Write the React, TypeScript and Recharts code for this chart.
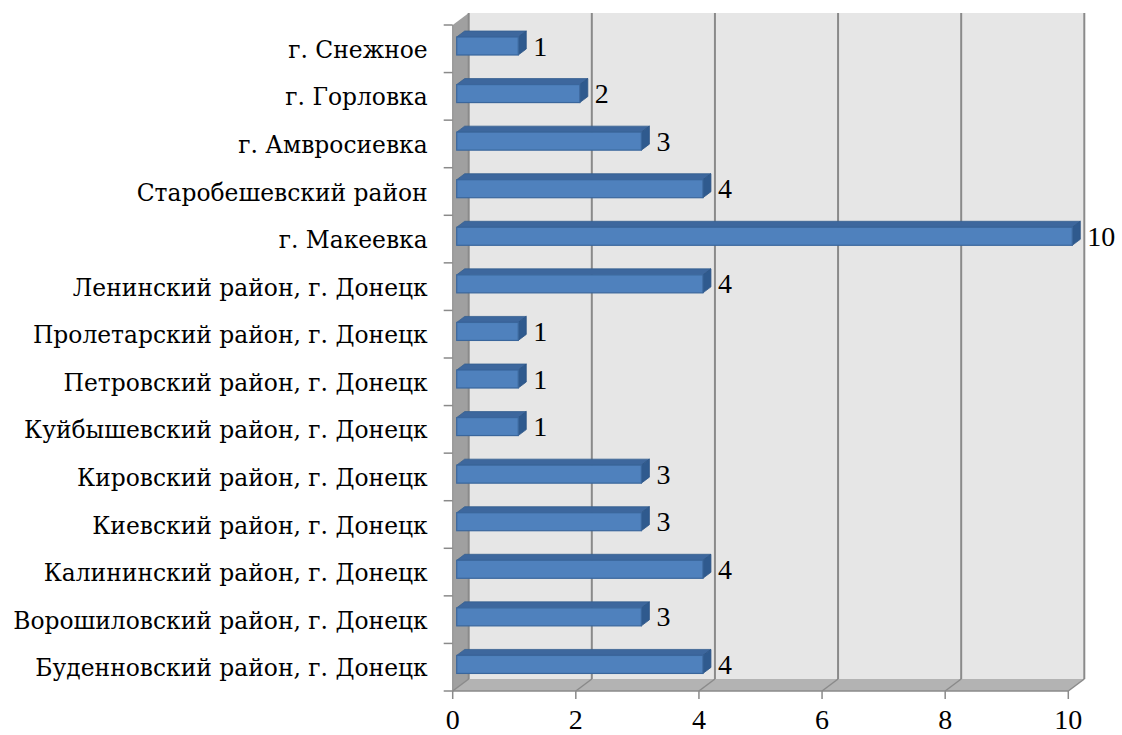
import React from "react";
import {
  BarChart,
  Bar,
  XAxis,
  YAxis,
  ReferenceArea,
  ReferenceLine,
  LabelList,
} from "recharts";

const categories = [
  "г. Снежное",
  "г. Горловка",
  "г. Амвросиевка",
  "Старобешевский район",
  "г. Макеевка",
  "Ленинский район, г. Донецк",
  "Пролетарский район, г. Донецк",
  "Петровский район, г. Донецк",
  "Куйбышевский район, г. Донецк",
  "Кировский район, г. Донецк",
  "Киевский район, г. Донецк",
  "Калининский район, г. Донецк",
  "Ворошиловский район, г. Донецк",
  "Буденновский район, г. Донецк",
];
const values = [1, 2, 3, 4, 10, 4, 1, 1, 1, 3, 3, 4, 3, 4];
const xTicks = [0, 2, 4, 6, 8, 10];

const data = categories.map((name, i) => ({ name, value: values[i] }));

const W = 1122;
const H = 735;
const MARGIN = { top: 25, right: 53.7, bottom: 4, left: 0 };
const Y_AXIS_W = 452.7;
const X_AXIS_H = 40;
const PLOT_H = H - MARGIN.top - MARGIN.bottom - X_AXIS_H;
const BAND = PLOT_H / categories.length;

// 3D offsets
const WX = 16; // back wall offset
const WY = -12;
const BX = 4; // bar front offset from front plane
const BY = -3;
const DX = 8; // bar depth
const DY = -6;

const GRID = "#8a8a8a";
const numStyle = { fontFamily: "Liberation Serif, Times New Roman, serif", fontSize: 28 } as React.CSSProperties;
const catStyle = { fontFamily: "DejaVu Serif, Liberation Serif, serif", fontSize: 23.4 } as React.CSSProperties;

const Background = (p: any) => {
  const { x, y, width, height } = p;
  const L = x, R = x + width, T = y, B = y + height;
  return (
    <g>
      <rect x={L + WX} y={T + WY} width={width} height={height} fill="#e6e6e6" />
      <polygon points={`${L},${T} ${L + WX},${T + WY} ${L + WX},${B + WY} ${L},${B}`} fill="#a0a0a0" />
      <polygon points={`${L},${B} ${L + WX},${B + WY} ${R + WX},${B + WY} ${R},${B}`} fill="#b3b3b3" />
    </g>
  );
};

const GridShape = (p: any) => {
  const { x1, y1, y2 } = p;
  const top = Math.min(y1, y2);
  const bot = Math.max(y1, y2);
  return (
    <g>
      <line x1={x1 + WX} y1={top + WY} x2={x1 + WX} y2={bot + WY} stroke={GRID} strokeWidth={2} />
      <line x1={x1} y1={bot} x2={x1 + WX} y2={bot + WY} stroke={GRID} strokeWidth={1.5} />
    </g>
  );
};

const Bar3D = (p: any) => {
  const { x, y, width, height } = p;
  if (!width || width <= 0) return null;
  const fx = x + BX;
  const fy = y + BY;
  const w = width;
  const h = height;
  return (
    <g>
      <polygon points={`${fx},${fy} ${fx + DX},${fy + DY} ${fx + w + DX},${fy + DY} ${fx + w},${fy}`} fill="#3d679d" stroke="#36608f" strokeWidth={0.8} />
      <polygon points={`${fx + w},${fy} ${fx + w + DX},${fy + DY} ${fx + w + DX},${fy + h + DY} ${fx + w},${fy + h}`} fill="#2f5a8e" stroke="#2c5485" strokeWidth={0.8} />
      <rect x={fx} y={fy} width={w} height={h} fill="#4f81bd" stroke="#3a669c" strokeWidth={1.2} />
    </g>
  );
};

const BarLabel = (p: any) => {
  const { x, y, width, height, value } = p;
  return (
    <text x={x + width + BX + 15} y={y + height / 2 + BY + 9.5} style={numStyle} fill="#000">
      {value}
    </text>
  );
};

const TICK_SIZE = 9;
const TICK_MARGIN = 16;

const YTick = (p: any) => {
  const { x, y, payload, index } = p;
  const lx1 = x + TICK_MARGIN;
  const lx2 = x + TICK_MARGIN + TICK_SIZE;
  return (
    <g>
      <line x1={lx1} y1={y - BAND / 2} x2={lx2} y2={y - BAND / 2} stroke={GRID} strokeWidth={1.5} />
      {index === categories.length - 1 && (
        <line x1={lx1} y1={y + BAND / 2} x2={lx2} y2={y + BAND / 2} stroke={GRID} strokeWidth={1.5} />
      )}
      <text x={x} y={y + 9} textAnchor="end" style={catStyle} fill="#000">
        {payload.value}
      </text>
    </g>
  );
};

const XTick = (p: any) => {
  const { x, y, payload } = p;
  return (
    <text x={x} y={y + 29.5} textAnchor="middle" style={numStyle} fill="#000">
      {payload.value}
    </text>
  );
};

export default function App() {
  return (
    <div style={{ position: "absolute", left: 0, top: 0, background: "#fff" }}>
      <BarChart width={W} height={H} data={data} layout="vertical" margin={MARGIN} barSize={18}>
        <XAxis type="number" domain={[0, 10]} ticks={xTicks} interval={0} height={X_AXIS_H} axisLine={{ stroke: GRID, strokeWidth: 1.5 }} tickLine={{ stroke: GRID, strokeWidth: 1.5 }} tickSize={8} tickMargin={0} tick={<XTick />} />
        <YAxis type="category" dataKey="name" width={Y_AXIS_W} interval={0} axisLine={{ stroke: GRID, strokeWidth: 1 }} tickLine={false} tickSize={TICK_SIZE} tickMargin={TICK_MARGIN} tick={<YTick />} />
        <ReferenceArea x1={0} x2={10} shape={<Background />} zIndex={50} fillOpacity={1} />
        {xTicks.map((t) => (
          <ReferenceLine key={t} x={t} shape={<GridShape />} zIndex={60} />
        ))}
        <Bar dataKey="value" shape={<Bar3D />} isAnimationActive={false}>
          <LabelList dataKey="value" content={<BarLabel />} />
        </Bar>
      </BarChart>
    </div>
  );
}
